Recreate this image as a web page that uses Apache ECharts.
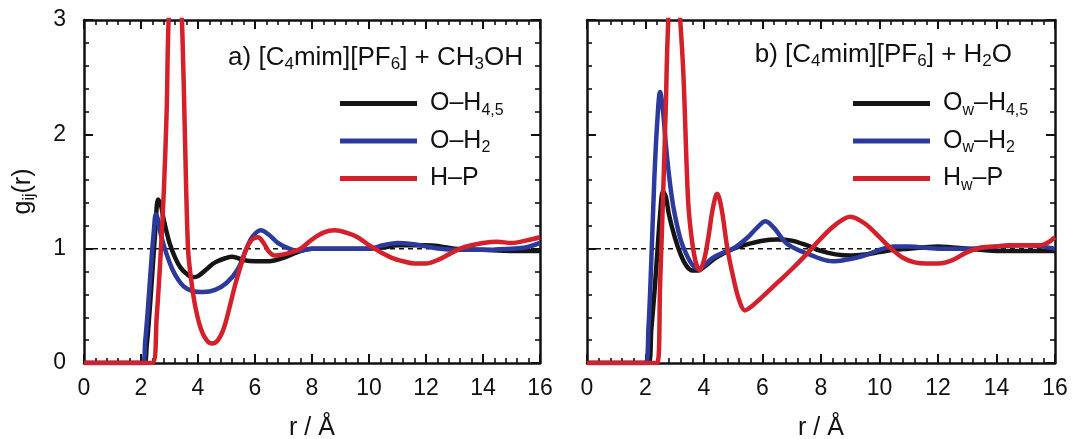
<!DOCTYPE html>
<html>
<head>
<meta charset="utf-8">
<script src="https://cdn.jsdelivr.net/npm/echarts@6/dist/echarts.min.js"></script>
<style>
  html, body { margin: 0; padding: 0; background: #fff; }
  #chart { width: 1073px; height: 439px; }
</style>
</head>
<body>
<div id="chart"></div>
<script>
// Radial distribution functions g_ij(r), r in Å.
// Panel a: [C4mim][PF6] + CH3OH
const methanolO_H45 = [[0,0],[2.1,0],[2.2,0.15],[2.3,0.45],[2.4,0.8],[2.5,1.15],[2.6,1.43],[2.7,1.38],[2.8,1.25],[3.0,1.05],[3.2,0.92],[3.4,0.83],[3.6,0.78],[3.8,0.75],[4.0,0.76],[4.3,0.82],[4.6,0.88],[5.0,0.92],[5.2,0.93],[5.6,0.9],[6.0,0.89],[6.5,0.89],[7.0,0.92],[7.5,0.97],[8.0,1.0],[9.0,1.0],[10.0,1.0],[10.5,1.01],[11.0,1.03],[12.0,1.03],[12.5,1.02],[13.0,1.0],[14.0,0.99],[15.0,0.98],[16.0,0.98]];
const methanolO_H2 = [[0,0],[2.05,0],[2.15,0.2],[2.25,0.5],[2.35,0.85],[2.45,1.15],[2.52,1.3],[2.6,1.25],[2.7,1.12],[2.9,0.95],[3.1,0.82],[3.3,0.73],[3.5,0.67],[3.8,0.63],[4.2,0.62],[4.6,0.64],[5.0,0.7],[5.4,0.82],[5.7,1.0],[5.9,1.1],[6.2,1.16],[6.5,1.12],[6.8,1.05],[7.2,1.0],[7.5,0.98],[8.0,1.0],[9.0,1.0],[10.0,1.0],[10.5,1.03],[11.0,1.05],[11.5,1.04],[12.0,1.02],[12.5,1.0],[13.0,0.99],[14.0,0.99],[15.0,1.0],[15.5,1.01],[16.0,1.05]];
const methanolH_P = [[0,0],[2.4,0],[2.55,0.4],[2.7,1.0],[2.8,1.5],[2.9,2.2],[2.97,3.0],[3.1,3.4],[3.25,3.45],[3.38,3.2],[3.45,2.9],[3.54,2.0],[3.65,1.0],[3.75,0.75],[3.9,0.5],[4.1,0.3],[4.3,0.2],[4.5,0.17],[4.7,0.2],[4.9,0.3],[5.1,0.48],[5.3,0.68],[5.5,0.85],[5.7,1.0],[5.9,1.08],[6.1,1.1],[6.3,1.05],[6.5,0.97],[6.7,0.94],[7.0,0.95],[7.3,0.97],[7.6,1.0],[8.0,1.08],[8.4,1.14],[8.8,1.16],[9.2,1.14],[9.6,1.1],[10.0,1.03],[10.4,0.97],[10.8,0.92],[11.2,0.89],[11.6,0.87],[12.0,0.87],[12.4,0.9],[12.8,0.95],[13.2,1.0],[13.6,1.03],[14.0,1.05],[14.5,1.06],[15.0,1.05],[15.5,1.07],[16.0,1.1]];

// Panel b: [C4mim][PF6] + H2O
const waterOw_H45 = [[0,0],[2.1,0],[2.2,0.3],[2.3,0.6],[2.4,0.95],[2.5,1.3],[2.6,1.5],[2.7,1.45],[2.8,1.3],[3.0,1.1],[3.2,0.95],[3.4,0.85],[3.6,0.81],[3.8,0.81],[4.0,0.84],[4.4,0.92],[5.0,1.0],[5.5,1.04],[6.0,1.07],[6.5,1.08],[7.0,1.07],[7.5,1.03],[8.0,0.98],[8.5,0.95],[9.0,0.94],[9.5,0.95],[10.0,0.97],[10.5,0.99],[11.0,1.0],[11.5,1.01],[12.0,1.02],[12.5,1.01],[13.0,1.0],[14.0,0.98],[15.0,0.98],[16.0,0.98]];
const waterOw_H2 = [[0,0],[2.0,0],[2.1,0.3],[2.2,0.9],[2.3,1.6],[2.4,2.1],[2.5,2.37],[2.6,2.2],[2.7,1.9],[2.8,1.65],[2.9,1.45],[3.0,1.3],[3.2,1.08],[3.4,0.95],[3.6,0.86],[3.8,0.82],[4.0,0.85],[4.3,0.92],[4.7,0.97],[5.0,1.0],[5.5,1.1],[5.8,1.18],[6.1,1.24],[6.4,1.18],[6.8,1.05],[7.2,0.99],[7.6,0.95],[8.0,0.91],[8.4,0.89],[8.8,0.9],[9.2,0.92],[9.6,0.95],[10.0,0.99],[10.5,1.02],[11.0,1.02],[12.0,1.0],[13.0,1.0],[14.0,1.02],[15.0,1.03],[15.5,1.02],[16.0,1.0]];
const waterHw_P = [[0,0],[2.4,0],[2.5,0.7],[2.6,1.45],[2.7,2.3],[2.75,2.8],[2.85,3.3],[3.0,3.45],[3.12,3.2],[3.2,2.95],[3.3,2.5],[3.45,1.45],[3.55,1.15],[3.7,0.9],[3.85,0.81],[4.0,0.9],[4.15,1.1],[4.3,1.35],[4.45,1.48],[4.6,1.35],[4.8,1.0],[5.0,0.75],[5.2,0.55],[5.4,0.46],[5.6,0.49],[6.0,0.58],[6.5,0.7],[7.0,0.82],[7.5,0.95],[8.0,1.09],[8.5,1.21],[9.0,1.28],[9.5,1.22],[10.0,1.1],[10.4,1.0],[10.8,0.92],[11.2,0.88],[11.6,0.87],[12.0,0.87],[12.5,0.9],[13.0,0.97],[13.5,1.01],[14.0,1.02],[14.5,1.03],[15.0,1.03],[15.5,1.03],[16.0,1.1]];

// Reference level g(r) = 1
const unityLine = [[0,1],[16,1]];

// Axis ranges
const rRange = [0, 16];
const gRange = [0, 3];

const FONT = '"Liberation Sans", Arial, Helvetica, sans-serif';
const INK = '#111';
const COLORS = { black: '#151515', blue: '#2c3a9e', red: '#d3202a' };

const rich = {
  n: { fontFamily: FONT, fontSize: 25, fontWeight: 'normal', color: INK, lineHeight: 30, verticalAlign: 'middle' },
  s: { fontFamily: FONT, fontSize: 16, fontWeight: 'normal', color: INK, lineHeight: 16, verticalAlign: 'bottom' }
};
const richTitle = {
  n: { fontFamily: FONT, fontSize: 26, fontWeight: 'normal', color: INK, lineHeight: 30, verticalAlign: 'middle' },
  s: { fontFamily: FONT, fontSize: 17, fontWeight: 'normal', color: INK, lineHeight: 16, verticalAlign: 'bottom' }
};

// Series names and their typeset forms
const legendText = {
  'O–H4,5': '{n|O–H}{s|4,5}',
  'O–H2': '{n|O–H}{s|2}',
  'H–P': '{n|H–P}',
  'Ow–H4,5': '{n|O}{s|w}{n|–H}{s|4,5}',
  'Ow–H2': '{n|O}{s|w}{n|–H}{s|2}',
  'Hw–P': '{n|H}{s|w}{n|–P}'
};

function axisBase(range, interval, pos, showLabel, labelMargin) {
  return {
    type: 'value', min: range[0], max: range[1], interval: interval,
    position: pos,
    axisLine: { show: true, onZero: false, lineStyle: { color: INK, width: 2.5 } },
    axisTick: { show: true, inside: true, length: 9, lineStyle: { color: INK, width: 2 } },
    minorTick: { show: true, splitNumber: 5, length: 5, lineStyle: { color: INK, width: 1.6 } },
    splitLine: { show: false },
    minorSplitLine: { show: false },
    axisLabel: { show: showLabel, margin: labelMargin, fontFamily: FONT, fontSize: 23, color: INK }
  };
}

const xAxes = [];
const yAxes = [];
[0, 1].forEach(function (g) {
  const xb = axisBase(rRange, 2, 'bottom', true, 14);
  xb.gridIndex = g;
  xb.name = '{n|r / Å}';
  xb.nameLocation = 'middle';
  xb.nameGap = 50;
  xb.nameTextStyle = { rich: rich };
  const xt = axisBase(rRange, 2, 'top', false, 0);
  xt.gridIndex = g;
  xAxes.push(xb, xt);

  const yl = axisBase(gRange, 1, 'left', g === 0, 18);
  yl.gridIndex = g;
  if (g === 0) {
    yl.name = '{n|g}{s|ij}{n|(r)}';
    yl.nameLocation = 'middle';
    yl.nameGap = 46;
    yl.nameRotate = 90;
    yl.nameTextStyle = { rich: rich };
  }
  const yr = axisBase(gRange, 1, 'right', false, 0);
  yr.gridIndex = g;
  yAxes.push(yl, yr);
});

function curve(name, data, color, g) {
  return {
    name: name, type: 'line', data: data,
    xAxisIndex: g * 2, yAxisIndex: g * 2,
    smooth: 0.35, showSymbol: false, symbol: 'none',
    color: color,
    lineStyle: { color: color, width: 4.5 },
    clip: true, z: 3
  };
}

function unity(g) {
  return {
    type: 'line', data: unityLine, xAxisIndex: g * 2, yAxisIndex: g * 2,
    showSymbol: false, symbol: 'none', silent: true,
    lineStyle: { color: INK, width: 1.5, type: [5, 4] }, z: 1
  };
}

function legend(names, left) {
  return {
    data: names, orient: 'vertical', left: left, top: 86,
    icon: 'rect', itemWidth: 77, itemHeight: 5, itemGap: 10,
    selectedMode: false,
    formatter: function (n) { return legendText[n]; },
    textStyle: { rich: rich, padding: [0, 0, 0, 8] }
  };
}

const option = {
  animation: false,
  backgroundColor: '#fff',
  grid: [
    { left: 84, top: 20, width: 456, height: 343, outerBoundsMode: 'none', containLabel: false },
    { left: 587, top: 20, width: 468, height: 343, outerBoundsMode: 'none', containLabel: false }
  ],
  title: [
    { text: '{n|a) [C}{s|4}{n|mim][PF}{s|6}{n|] + CH}{s|3}{n|OH}', right: 550, top: 43, padding: 0,
      textStyle: { fontWeight: 'normal', rich: richTitle } },
    { text: '{n|b) [C}{s|4}{n|mim][PF}{s|6}{n|] + H}{s|2}{n|O}', right: 61, top: 40, padding: 0,
      textStyle: { fontWeight: 'normal', rich: richTitle } }
  ],
  legend: [
    legend(['O–H4,5', 'O–H2', 'H–P'], 335),
    legend(['Ow–H4,5', 'Ow–H2', 'Hw–P'], 848)
  ],
  xAxis: xAxes,
  yAxis: yAxes,
  series: [
    unity(0),
    curve('O–H4,5', methanolO_H45, COLORS.black, 0),
    curve('O–H2', methanolO_H2, COLORS.blue, 0),
    curve('H–P', methanolH_P, COLORS.red, 0),
    unity(1),
    curve('Ow–H4,5', waterOw_H45, COLORS.black, 1),
    curve('Ow–H2', waterOw_H2, COLORS.blue, 1),
    curve('Hw–P', waterHw_P, COLORS.red, 1)
  ]
};

const chart = echarts.init(document.getElementById('chart'), null, { renderer: 'canvas' });
chart.setOption(option);
</script>
</body>
</html>
